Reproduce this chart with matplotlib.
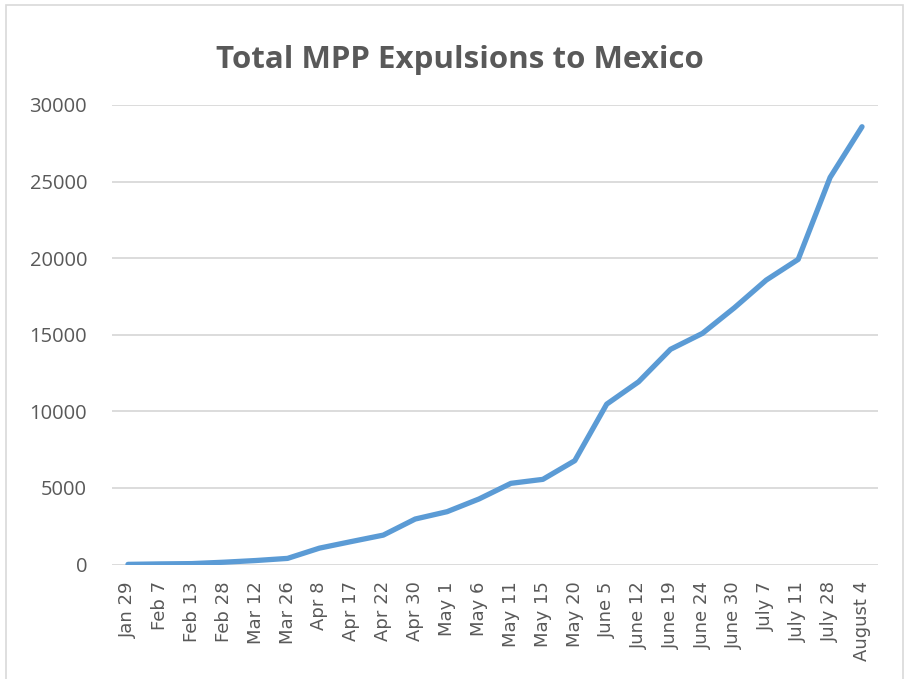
import matplotlib
matplotlib.use("Agg")
import matplotlib.pyplot as plt
from matplotlib.patches import Rectangle

# data
dates = ["Jan 29", "Feb 7", "Feb 13", "Feb 28", "Mar 12", "Mar 26", "Apr 8", "Apr 17",
         "Apr 22", "Apr 30", "May 1", "May 6", "May 11", "May 15", "May 20", "June 5",
         "June 12", "June 19", "June 24", "June 30", "July 7", "July 11", "July 28", "August 4"]
expulsions = [10, 40, 60, 150, 260, 400, 1070, 1500, 1920, 2970, 3450, 4280, 5300, 5560,
               6780, 10470, 11930, 14050, 15090, 16760, 18570, 19920, 25270, 28580]
yticks = [0, 5000, 10000, 15000, 20000, 25000, 30000]

grey = "#595959"

fig = plt.figure(figsize=(9.07, 6.79), dpi=100)
ax = fig.add_axes([0.1235, 0.1686, 0.8445, 0.6768])

# chart border like the Excel chart area
fig.patches.append(Rectangle((6 / 907, -0.05), 897 / 907, 1.0 - 5 / 679 + 0.05,
                             transform=fig.transFigure, fill=False,
                             edgecolor="#D9D9D9", linewidth=1.2))

x = list(range(len(dates)))
ax.plot(x, expulsions, color="#5B9BD5", linewidth=3.8, solid_capstyle="round",
        solid_joinstyle="round", zorder=3)

ax.set_xlim(-0.5, len(dates) - 0.5)
ax.set_ylim(0, 30000)
ax.set_yticks(yticks)
ax.set_yticklabels([str(v) for v in yticks], fontsize=14.5, color=grey, family="Open Sans")
ax.set_xticks(x)
ax.set_xticklabels(dates, rotation=90, fontsize=13, color=grey)
ax.tick_params(length=0)
ax.tick_params(axis="x", pad=12)
ax.tick_params(axis="y", pad=18)

ax.grid(axis="y", color="#D9D9D9", linewidth=1.3)
ax.set_axisbelow(True)
for s in ax.spines.values():
    s.set_visible(False)

fig.text(0.5066, 1 - 68 / 679, "Total MPP Expulsions to Mexico", ha="center", va="baseline",
         fontsize=22.5, fontweight="bold", color=grey, family="Open Sans")

fig.savefig("out.png", dpi=100)
